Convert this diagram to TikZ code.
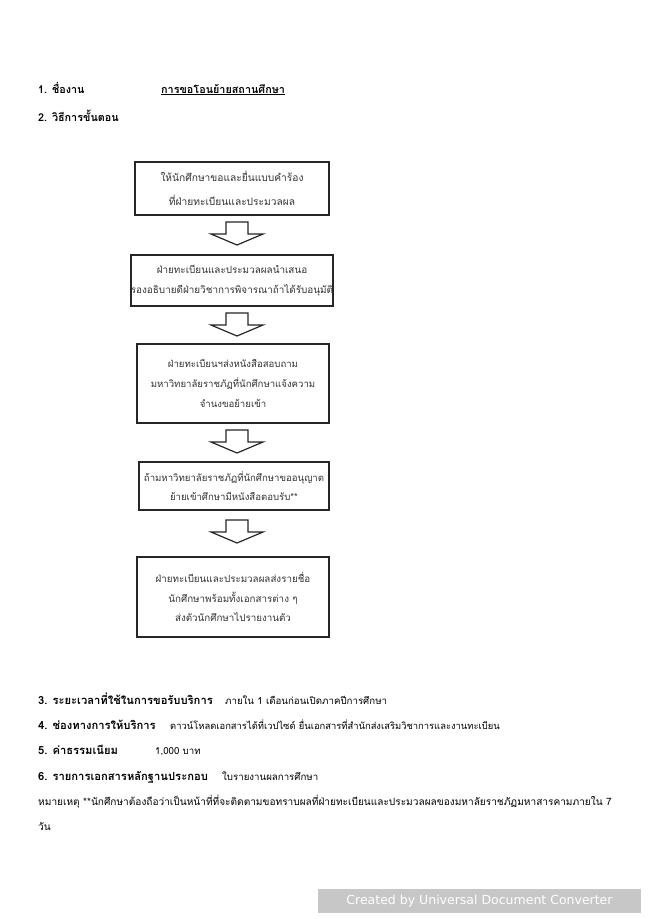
\documentclass[tikz,border=0pt]{standalone}
\usepackage{fontspec}
\setmainfont[Script=Thai]{Loma}
\newfontfamily\wmfont{DejaVu Sans}
\begin{document}
\begin{tikzpicture}[x=1pt,y=-1pt,
  lbl/.style={anchor=base west, inner sep=0pt, font=\fontsize{9.7}{12}\selectfont},
  lblb/.style={anchor=base west, inner sep=0pt, font=\fontsize{11.2}{13}\selectfont\bfseries},
  hdb/.style={anchor=base west, inner sep=0pt, font=\fontsize{10.8}{13}\selectfont\bfseries},
  note/.style={anchor=base west, inner sep=0pt, font=\fontsize{10.1}{12}\selectfont},
  stepbox/.style={draw=black!85, line width=1.3pt, align=center, inner sep=0pt, text=black!80},
  blockarrow/.style={draw=black!85, line width=1.2pt, fill=white, line join=miter}]
\useasboundingbox (0,0) rectangle (650,919);
\fill[white] (0,0) rectangle (650,919);
% header
\node[hdb] (h1) at (38,93) {1. ชื่องาน};
\node[hdb] (h1v) at (161,93) {\underline{การขอโอนย้ายสถานศึกษา}};
\node[hdb] (h2) at (38,121) {2. วิธีการขั้นตอน};
% boxes
\node[stepbox, minimum width=194pt, minimum height=53pt, font=\fontsize{10.2}{24}\selectfont] (b1) at (232,188.5) {ให้นักศึกษาขอและยื่นแบบคำร้อง\\ที่ฝ่ายทะเบียนและประมวลผล};
\node[stepbox, minimum width=194pt, minimum height=51pt, font=\fontsize{9.9}{20}\selectfont] (b2) at (232,280.5) {ฝ่ายทะเบียนและประมวลผลนำเสนอ\\รองอธิบายดีฝ่ายวิชาการพิจารณาถ้าได้รับอนุมัติ};
\node[stepbox, minimum width=192pt, minimum height=79pt, font=\fontsize{9.6}{20}\selectfont] (b3) at (233,383.5) {ฝ่ายทะเบียนฯส่งหนังสือสอบถาม\\มหาวิทยาลัยราชภัฏที่นักศึกษาแจ้งความ\\จำนงขอย้ายเข้า};
\node[stepbox, minimum width=190pt, minimum height=48pt, font=\fontsize{9.6}{19.5}\selectfont] (b4) at (234,486) {ถ้ามหาวิทยาลัยราชภัฏที่นักศึกษาขออนุญาต\\ย้ายเข้าศึกษามีหนังสือตอบรับ**};
\node[stepbox, minimum width=192pt, minimum height=80pt, font=\fontsize{9.8}{19.5}\selectfont] (b5) at (233,597) {ฝ่ายทะเบียนและประมวลผลส่งรายชื่อ\\นักศึกษาพร้อมทั้งเอกสารต่าง ๆ\\ส่งตัวนักศึกษาไปรายงานตัว};
% block arrows
\foreach \t/\b/\p in {222/234/245, 313/325/336, 430/442/453, 520/532/543}{
  \draw[blockarrow] (226,\t) -- (248,\t) -- (248,\b) -- (263,\b) -- (237,\p) -- (211,\b) -- (226,\b) -- cycle;
}
% details
\node[lblb] (l3) at (38,704) {3. ระยะเวลาที่ใช้ในการขอรับบริการ};
\node[lbl] (l3v) at (225,704) {ภายใน 1 เดือนก่อนเปิดภาคปีการศึกษา};
\node[lblb] (l4) at (38,729) {4. ช่องทางการให้บริการ};
\node[lbl, font=\fontsize{9.4}{12}\selectfont] (l4v) at (170,729) {ดาวน์โหลดเอกสารได้ที่เวปไซด์ ยื่นเอกสารที่สำนักส่งเสริมวิชาการและงานทะเบียน};
\node[lblb] (l5) at (38,754) {5. ค่าธรรมเนียม};
\node[lbl] (l5v) at (155,754) {1,000 บาท};
\node[lblb] (l6) at (38,780) {6. รายการเอกสารหลักฐานประกอบ};
\node[lbl] (l6v) at (222,780) {ใบรายงานผลการศึกษา};
\node[note] (n1) at (38,805) {หมายเหตุ **นักศึกษาต้องถือว่าเป็นหน้าที่ที่จะติดตามขอทราบผลที่ฝ่ายทะเบียนและประมวลผลของมหาลัยราชภัฏมหาสารคามภายใน 7};
\node[note] (n2) at (38,830) {วัน};
% watermark
\node[fill=black!22, text=white, minimum width=323pt, minimum height=24pt, inner sep=0pt, font=\wmfont\fontsize{12.5}{14}\selectfont] (wm) at (479.5,901) {Created by Universal Document Converter};
\end{tikzpicture}
\end{document}
